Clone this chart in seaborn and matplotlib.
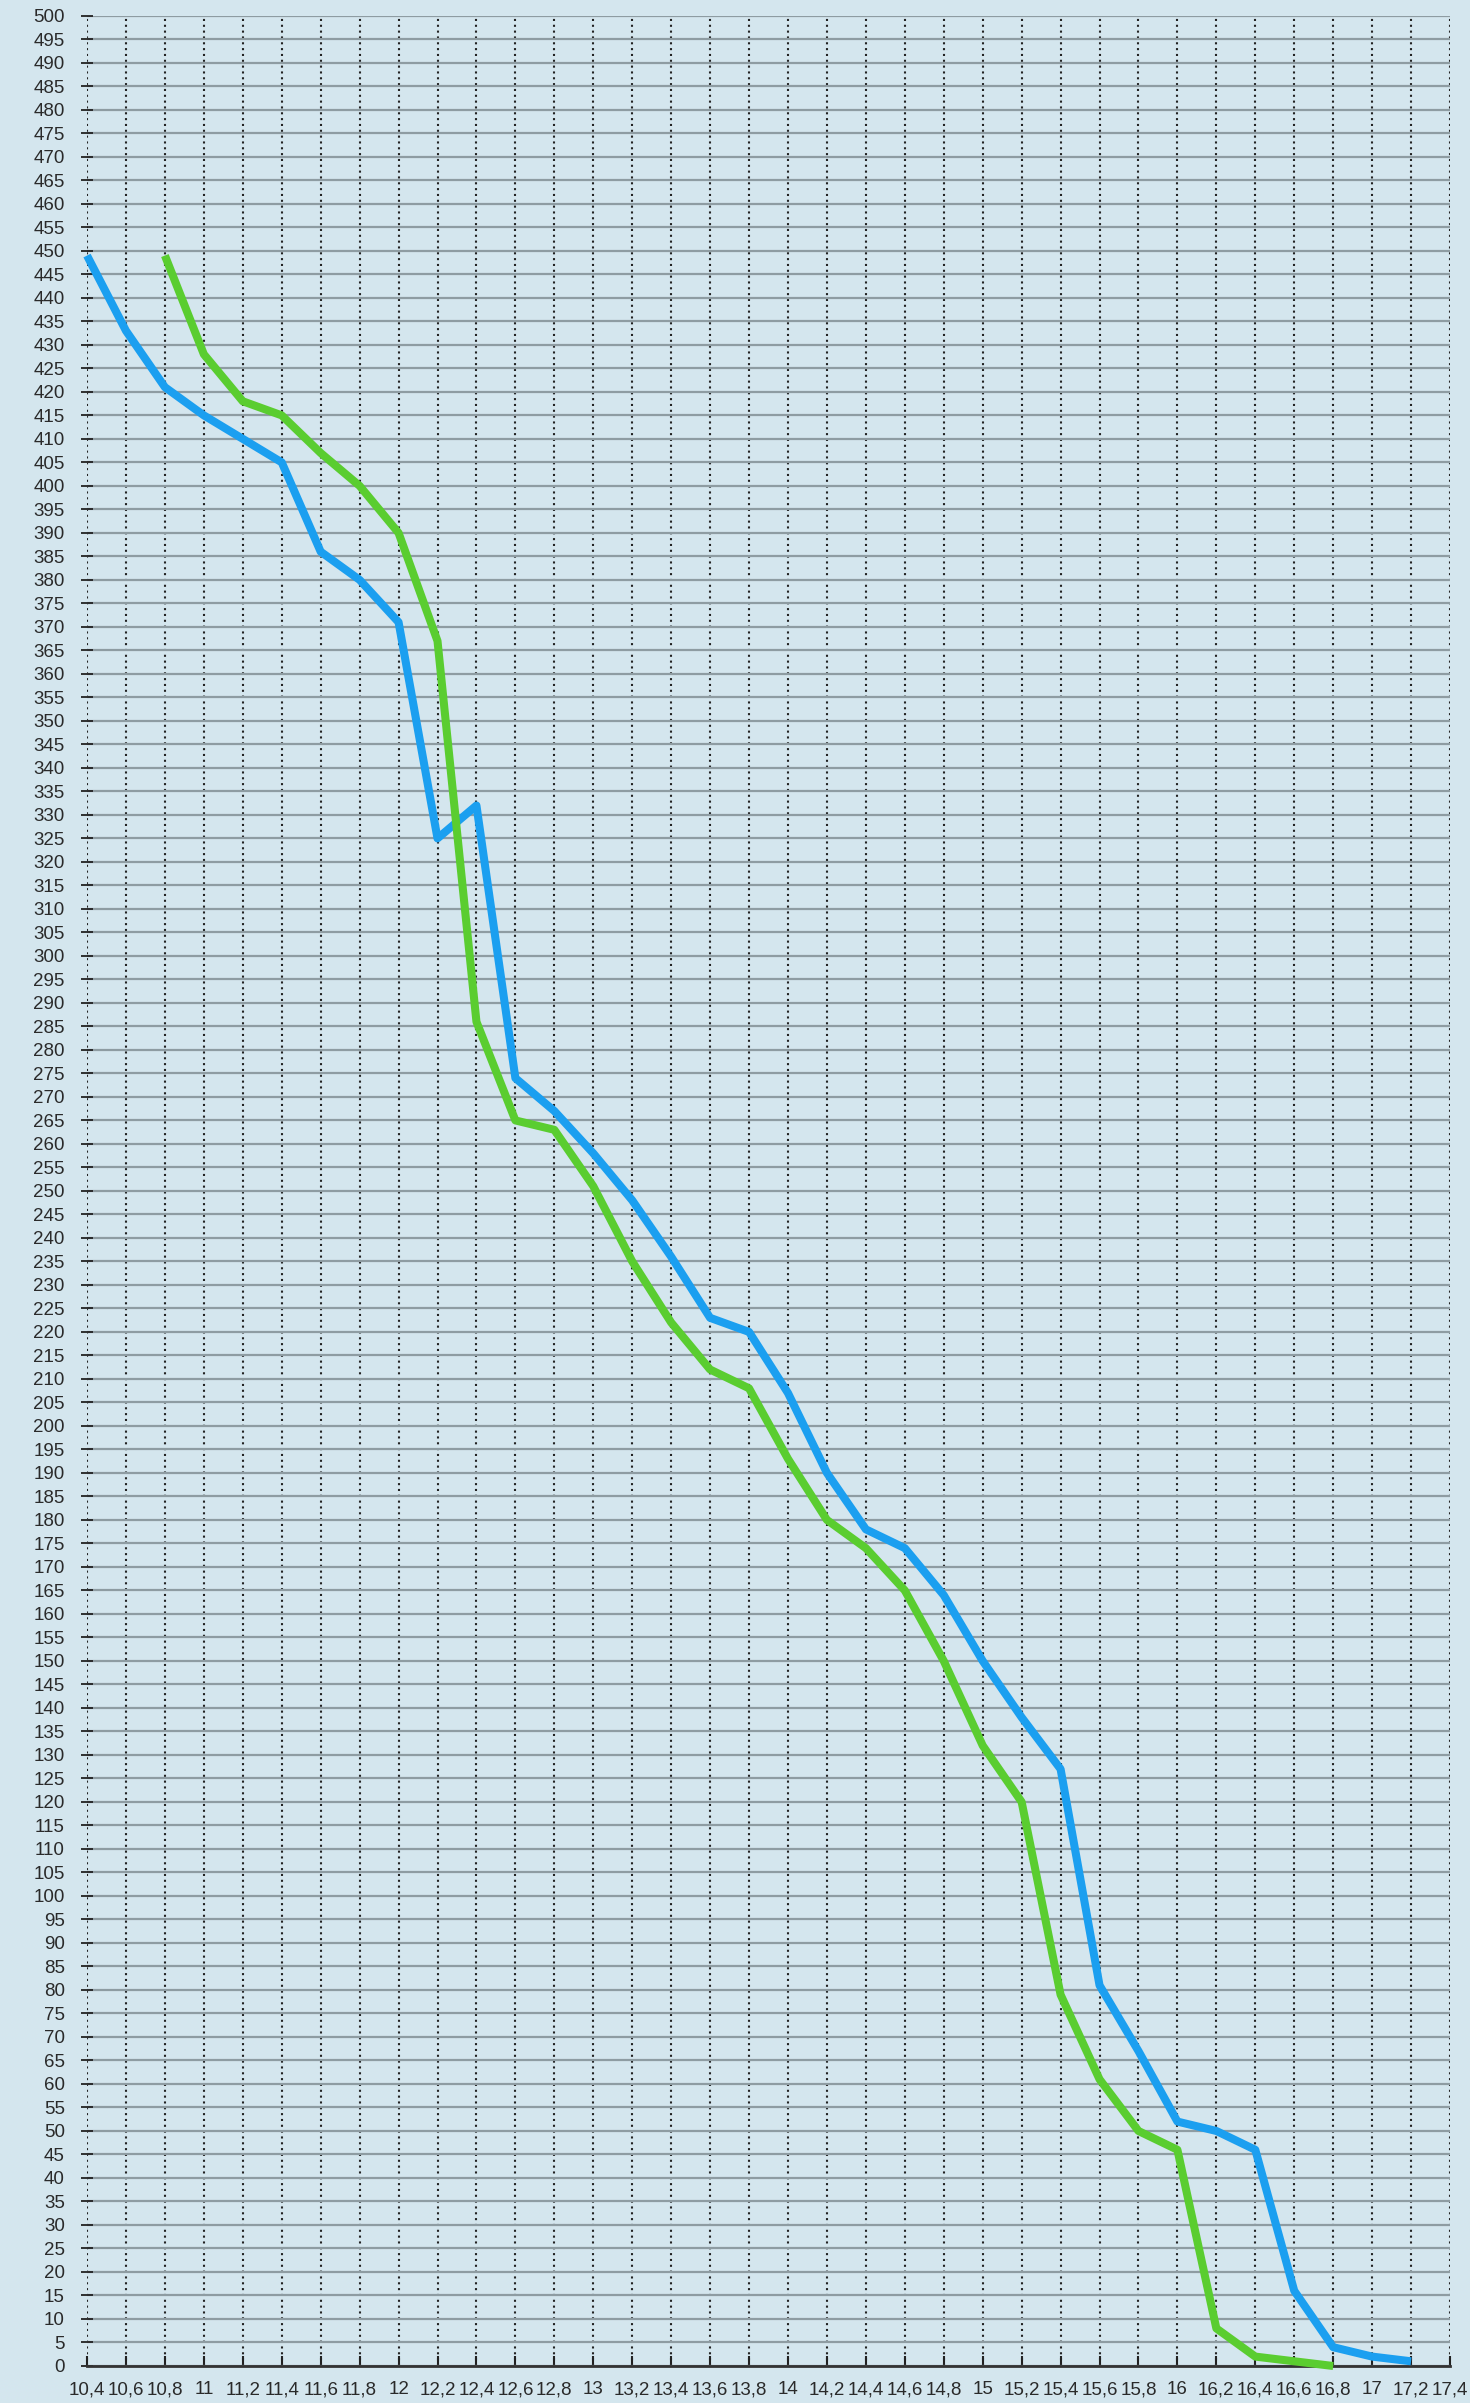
import numpy as np
import pandas as pd
import seaborn as sns
import matplotlib.pyplot as plt

bg = '#d4e6ee'
sns.set_style('ticks', {'axes.facecolor': bg, 'figure.facecolor': bg})
plt.rcParams['font.family'] = ['Liberation Sans', 'DejaVu Sans']

# blue series
blue_x = [10.4, 10.6, 10.8, 11.0, 11.2, 11.4, 11.6, 11.8, 12.0, 12.2, 12.4, 12.6,
          12.8, 13.0, 13.2, 13.4, 13.6, 13.8, 14.0, 14.2, 14.4, 14.6, 14.8, 15.0,
          15.2, 15.4, 15.6, 15.8, 16.0, 16.2, 16.4, 16.6, 16.8, 17.0, 17.2]
blue_y = [449, 433, 421, 415, 410, 405, 386, 380, 371, 325, 332, 274,
          267, 258, 248, 236, 223, 220, 207, 190, 178, 174, 164, 150,
          138, 127, 81, 67, 52, 50, 46, 16, 4, 2, 1]

# green series
green_x = [10.8, 11.0, 11.2, 11.4, 11.6, 11.8, 12.0, 12.2, 12.4, 12.6, 12.8,
           13.0, 13.2, 13.4, 13.6, 13.8, 14.0, 14.2, 14.4, 14.6, 14.8, 15.0,
           15.2, 15.4, 15.6, 15.8, 16.0, 16.2, 16.4, 16.6, 16.8]
green_y = [449, 428, 418, 415, 407, 400, 390, 367, 286, 265, 263,
           251, 235, 222, 212, 208, 193, 180, 174, 165, 150, 132,
           120, 79, 61, 50, 46, 8, 2, 1, 0]

x_ticks = np.round(np.arange(10.4, 17.41, 0.2), 1)
y_ticks = np.arange(0, 501, 5)

fig = plt.figure(figsize=(14.7, 24.03), dpi=100)
ax = fig.add_axes([0.0592, 0.0154, 0.9272, 0.978])

blue = pd.DataFrame({'x': blue_x, 'y': blue_y})
green = pd.DataFrame({'x': green_x, 'y': green_y})
sns.lineplot(data=blue, x='x', y='y', ax=ax, color='#1b9ff0', lw=5.8, zorder=3)
sns.lineplot(data=green, x='x', y='y', ax=ax, color='#5acd30', lw=5.8, zorder=4)
for l in ax.lines:
    l.set_clip_on(False)
    l.set_solid_capstyle('butt')

ax.set_xlim(10.4, 17.4)
ax.set_ylim(0, 500)
ax.set_xticks(x_ticks)
ax.set_xticklabels([(f'{v:.0f}' if abs(v - round(v)) < 1e-9 else f'{v:.1f}').replace('.', ',') for v in x_ticks])
ax.set_yticks(y_ticks)
ax.set_yticklabels([str(v) for v in y_ticks])
ax.set_xlabel('')
ax.set_ylabel('')

# grid: solid grey horizontals, dotted black verticals
ax.set_axisbelow(True)
ax.yaxis.grid(True, color='#8e9ca2', lw=1.6, ls='-')
ax.xaxis.grid(True, color='#222222', lw=1.5, ls=(0, (1, 1.8)))

for s in ['top', 'right', 'left']:
    ax.spines[s].set_visible(False)
ax.spines['bottom'].set_color('#333333')
ax.spines['bottom'].set_linewidth(2)

ax.tick_params(axis='y', direction='inout', length=8, width=1.3, color='#222222',
               labelsize=13.5, labelcolor='#2a2a2a', pad=12)
ax.tick_params(axis='x', direction='in', length=7, width=1.5, color='#222222',
               labelsize=13.5, labelcolor='#2a2a2a', pad=11)

plt.savefig('out.png', dpi=100, facecolor=bg)
